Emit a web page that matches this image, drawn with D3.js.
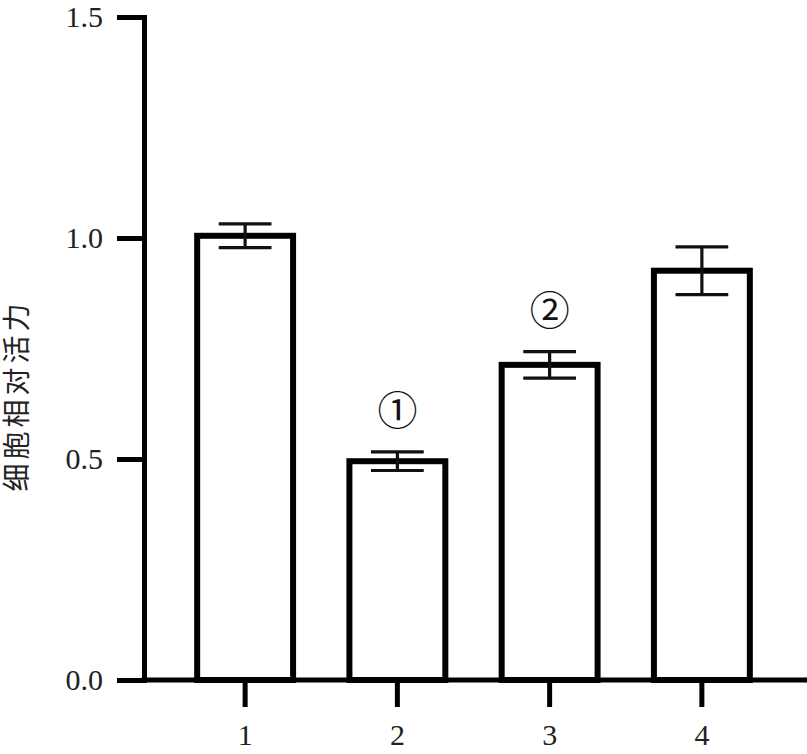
<!DOCTYPE html>
<html>
<head>
<meta charset="utf-8">
<script src="https://cdn.jsdelivr.net/npm/d3@7"></script>
<style>
  html, body { margin: 0; padding: 0; background: #fff; }
  svg { display: block; }
</style>
</head>
<body>
<svg id="chart"></svg>
<script>
// data
const categories = ["1", "2", "3", "4"]
const means = [1.005, 0.495, 0.713, 0.926]
const errors = [0.027, 0.021, 0.03, 0.054]
const yTicks = [0, 0.5, 1.0, 1.5]
const marks = [null, "①", "②", null]
const yTitle = "细胞相对活力"

const width = 807, height = 754
const margin = {top: 17, right: 0, bottom: 74, left: 144}

const svg = d3.select("#chart")
  .attr("width", width)
  .attr("height", height)

const y = d3.scaleLinear()
  .domain([0, 1.5])
  .range([height - margin.bottom, margin.top])

const x = d3.scaleBand()
  .domain(categories)
  .range([169, 778])
  .paddingInner(0.37)
  .paddingOuter(0.185)

const serif = "'Liberation Serif', 'Times New Roman', serif"

// bars
svg.append("g")
  .selectAll("rect")
  .data(means)
  .join("rect")
  .attr("x", (d, i) => x(categories[i]))
  .attr("y", d => y(d))
  .attr("width", x.bandwidth())
  .attr("height", d => y(0) - y(d))
  .attr("fill", "#fff")
  .attr("stroke", "#000")
  .attr("stroke-width", 6)

// error bars
const capW = x.bandwidth() * 0.55
const eb = svg.append("g")
  .attr("stroke", "#111")
  .attr("stroke-width", 3.2)
means.forEach((m, i) => {
  const cx = x(categories[i]) + x.bandwidth() / 2
  const hi = y(m + errors[i]), lo = y(m - errors[i])
  eb.append("line").attr("x1", cx).attr("x2", cx).attr("y1", hi).attr("y2", lo)
  eb.append("line").attr("x1", cx - capW / 2).attr("x2", cx + capW / 2).attr("y1", hi).attr("y2", hi)
  eb.append("line").attr("x1", cx - capW / 2).attr("x2", cx + capW / 2).attr("y1", lo).attr("y2", lo)
})

// circled annotations
svg.append("g")
  .selectAll("text")
  .data(marks.map((t, i) => ({t, i})).filter(d => d.t))
  .join("text")
  .attr("x", d => x(categories[d.i]) + x.bandwidth() / 2)
  .attr("y", d => y(means[d.i] + errors[d.i]) - 44)
  .attr("text-anchor", "middle")
  .attr("dominant-baseline", "central")
  .style("font-family", "'Noto Sans CJK SC', 'DejaVu Sans', sans-serif")
  .style("font-size", "40px")
  .style("fill", "#111")
  .text(d => d.t)

// y axis
const yAxis = svg.append("g")
  .attr("transform", `translate(${margin.left}, 0)`)
  .call(d3.axisLeft(y).tickValues(yTicks).tickFormat(d3.format(".1f")).tickSize(27).tickSizeOuter(0).tickPadding(14))
yAxis.select(".domain").attr("stroke-width", 5).attr("stroke-linecap", "square")
yAxis.selectAll(".tick line").attr("stroke-width", 5)
yAxis.selectAll(".tick text")
  .style("font-family", serif)
  .style("font-size", "30px")
  .style("fill", "#222")

// x axis
const xAxis = svg.append("g")
  .attr("transform", `translate(0, ${y(0)})`)
  .call(d3.axisBottom(x).tickSize(27).tickSizeOuter(0).tickPadding(17))
xAxis.select(".domain").remove()
xAxis.append("line")
  .attr("x1", margin.left - 2.5)
  .attr("x2", width)
  .attr("stroke", "#000")
  .attr("stroke-width", 5)
xAxis.selectAll(".tick line").attr("stroke-width", 5)
xAxis.selectAll(".tick text")
  .style("font-family", serif)
  .style("font-size", "30px")
  .style("fill", "#222")

// y title
svg.append("text")
  .attr("transform", `translate(27, ${(y(0) + y(1.5)) / 2 + 49}) rotate(-90)`)
  .attr("text-anchor", "middle")
  .style("font-family", "'Noto Sans CJK SC', sans-serif")
  .style("font-size", "28px")
  .attr("textLength", 188)
  .style("fill", "#222")
  .text(yTitle)
</script>
</body>
</html>
